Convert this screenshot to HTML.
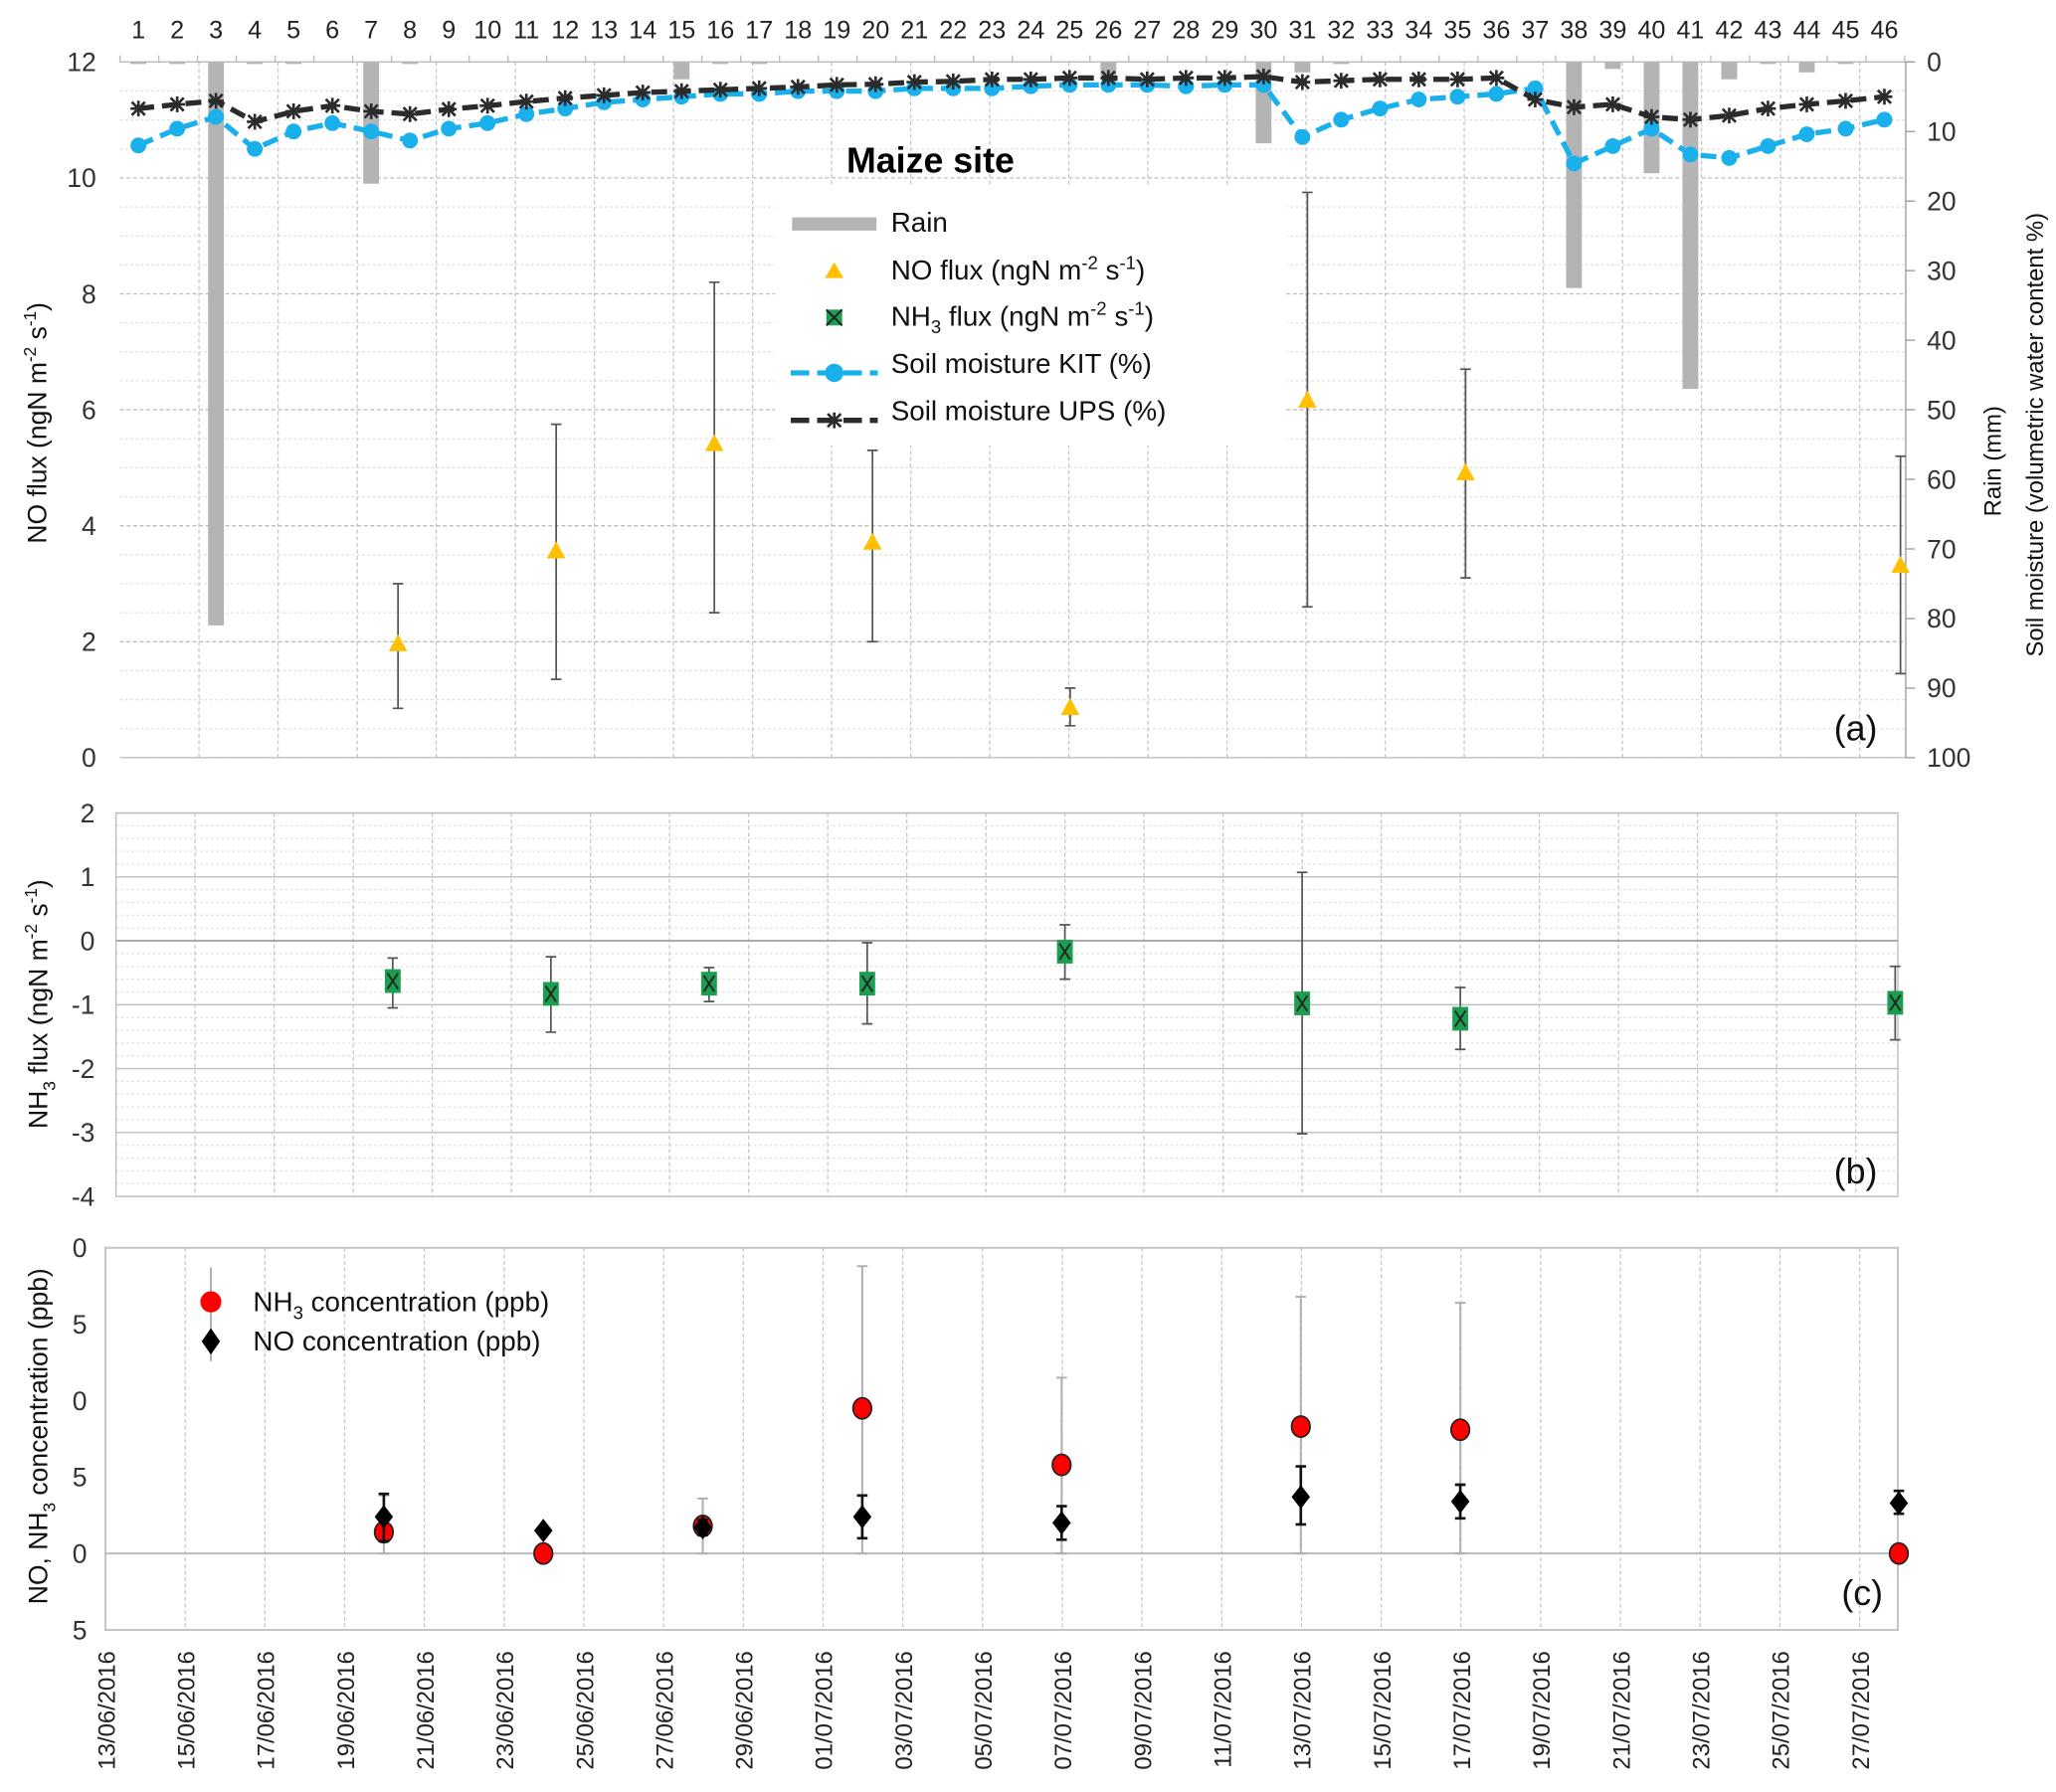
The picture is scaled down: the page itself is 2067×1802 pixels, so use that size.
<!DOCTYPE html>
<html><head><meta charset="utf-8"><style>
html,body{margin:0;padding:0;background:#fff;}
svg{display:block;font-family:"Liberation Sans",sans-serif;}
</style></head><body>
<svg id="chart" xmlns="http://www.w3.org/2000/svg" width="2067" height="1802" viewBox="0 0 1560 1360" preserveAspectRatio="none">
<g id="root"></g>
</svg>
<script>
// ---- data ----
const dayNumbers = Array.from({length:46},(_,i)=>i+1);
const rainMm = [0.3,0.3,81,0.3,0.3,0,17.5,0.3,0,0,0,0,0,0,2.5,0.3,0.3,0,0,0,0,0,0,0,0,2,0,0,0,11.7,1.5,0.3,0,0,0,0,0,32.5,1,16,47,2.5,0.3,1.5,0.3,0];
const kitPct = [12,9.6,7.9,12.5,10,8.8,10,11.3,9.6,8.8,7.5,6.7,5.8,5.4,5,4.6,4.6,4.2,4.2,4.2,3.8,3.8,3.8,3.5,3.3,3.3,3.3,3.5,3.3,3.3,10.8,8.3,6.7,5.4,5,4.6,3.8,14.6,12.1,9.6,13.3,13.8,12.1,10.4,9.6,8.3];
const upsPct = [6.7,6.1,5.6,8.6,7.1,6.3,7.1,7.5,6.8,6.3,5.7,5.2,4.8,4.4,4.2,4,3.8,3.6,3.3,3.2,2.9,2.8,2.5,2.5,2.3,2.3,2.5,2.3,2.3,2.1,2.9,2.7,2.5,2.5,2.5,2.3,5.4,6.5,6.1,7.9,8.3,7.7,6.7,6.1,5.6,5];
// measurement dates as days after 13/06/2016
const measDays = [7,11,15,19,24,30,34,45];
const noFlux = [1.95,3.55,5.4,3.7,0.85,6.15,4.9,3.3];
const noFluxLo = [0.85,1.35,2.5,2.0,0.55,2.6,3.1,1.45];
const noFluxHi = [3.0,5.75,8.2,5.3,1.2,9.75,6.7,5.2];
const nh3Flux = [-0.63,-0.83,-0.67,-0.67,-0.17,-0.98,-1.22,-0.97];
const nh3FluxLo = [-1.05,-1.43,-0.95,-1.3,-0.6,-3.02,-1.7,-1.55];
const nh3FluxHi = [-0.27,-0.25,-0.42,-0.03,0.25,1.07,-0.73,-0.4];
const nh3Conc = [1.4,0,1.8,9.5,5.8,8.3,8.1,0];
const nh3ConcLo = [0,null,0,0,0,0,0,null];
const nh3ConcHi = [3.8,null,3.6,18.8,11.5,16.8,16.4,null];
const noConc = [2.4,1.5,1.7,2.4,2.0,3.7,3.4,3.3];
const noConcLo = [0.8,null,1.2,1.0,0.9,1.9,2.3,2.6];
const noConcHi = [3.9,null,2.2,3.8,3.1,5.7,4.5,4.1];
const dateLabels = ["13/06/2016","15/06/2016","17/06/2016","19/06/2016","21/06/2016","23/06/2016","25/06/2016","27/06/2016","29/06/2016","01/07/2016","03/07/2016","05/07/2016","07/07/2016","09/07/2016","11/07/2016","13/07/2016","15/07/2016","17/07/2016","19/07/2016","21/07/2016","23/07/2016","25/07/2016","27/07/2016"];
const leftTicksA = [0,2,4,6,8,10,12];
const rightTicksA = [0,10,20,30,40,50,60,70,80,90,100];
const ticksB = [2,1,0,-1,-2,-3,-4];
const ticksC = [20,15,10,5,0,-5];
const ticksCLabel = ["0","5","0","5","0","5"];

// ---- helpers ----
const NS="http://www.w3.org/2000/svg";
const root=document.getElementById('root');
function el(tag,attrs,parent,text){const e=document.createElementNS(NS,tag);for(const k in attrs)e.setAttribute(k,attrs[k]);if(text!==undefined)e.textContent=text;(parent||root).appendChild(e);return e;}
function grp(name){const g=el('g',{});return g;}

// axes
const aX0=91,aX1=1446,aY0=47,aY1=575;
const xDayNum=d=>105+(d-1)*29.44;
const yA=v=>aY1-(v/12)*(aY1-aY0);
const yR=p=>aY0+(p/100)*(aY1-aY0);
const xDateA=d=>92+d*30;
const bX0=88,bX1=1440,bY0=617,bY1=908;
const yB=v=>bY0+(2-v)/6*(bY1-bY0);
const xDateB=d=>88+d*30;
const cX0=80,cX1=1440,cY0=947,cY1=1237;
const yC=v=>cY0+(20-v)/25*(cY1-cY0);
const xDateC=d=>79.5+d*30.25;

// ===== Panel A =====
const gA=grp('panel-a');
const gridA=el('g',{},gA);
for(let v=0;v<=12;v+=0.5){const y=yA(v);el('line',{x1:aX0,x2:aX1,y1:y,y2:y,stroke:v%2===0?'#bdbdbd':'#e0e0e0','stroke-width':1,'stroke-dasharray':v%2===0?'3,2':'2,2'},gridA);}
for(let x=aX0+60;x<aX1;x+=60){el('line',{x1:x,x2:x,y1:aY0,y2:aY1,stroke:'#c8c8c8','stroke-width':1,'stroke-dasharray':'3,2'},gridA);}
el('line',{x1:aX0,x2:aX1,y1:aY0,y2:aY0,stroke:'#bbb'},gA);
el('line',{x1:aX0,x2:aX1,y1:aY1,y2:aY1,stroke:'#bbb'},gA);
el('line',{x1:aX1,x2:aX1,y1:aY0,y2:aY1,stroke:'#999'},gA);
for(let d=0;d<=46;d++){const x=aX0+d*29.44;el('line',{x1:x,x2:x,y1:aY0-5,y2:aY0,stroke:'#bbb'},gA);}
dayNumbers.forEach(d=>{const t=el('text',{x:xDayNum(d),y:29,'font-size':19,'text-anchor':'middle',fill:'#222'},gA,String(d));});
leftTicksA.forEach(v=>{const t=el('text',{x:73,y:yA(v)+7,'font-size':20,'text-anchor':'end',fill:'#333'},gA,String(v));});
rightTicksA.forEach(v=>{el('line',{x1:aX1,x2:aX1+7,y1:yR(v),y2:yR(v),stroke:'#999'},gA);const t=el('text',{x:1462,y:yR(v)+7,'font-size':20,fill:'#333'},gA,String(v));});
// rain bars
const gRain=el('g',{},gA);
rainMm.forEach((r,i)=>{if(r<=0)return;const b=el('rect',{x:xDayNum(i+1)-6,y:aY0,width:12,height:Math.max(1,yR(r)-aY0),fill:'#b4b4b4'},gRain);});
// soil moisture lines
function line(vals,color,g,name,marker){
  const pts=vals.map((v,i)=>[xDayNum(i+1),yR(v)]);
  const p=el('polyline',{points:pts.map(p=>p.join(',')).join(' '),fill:'none',stroke:color,'stroke-width':4,'stroke-dasharray':'12,6'},g);
  
  pts.forEach(([x,y])=>{
    if(marker==='circle'){const c=el('circle',{cx:x,cy:y,r:6,fill:color},g);}
    else{const s=el('path',{d:`M${x-6},${y}H${x+6}M${x},${y-6}V${y+6}M${x-5},${y-5}L${x+5},${y+5}M${x-5},${y+5}L${x+5},${y-5}`,stroke:color,'stroke-width':2},g);}
  });
}
const gKit=el('g',{},gA);
line(kitPct,'#1ab0ec',gKit,'soil-moisture-kit-line','circle');
const gUps=el('g',{},gA);
line(upsPct,'#2b2b2b',gUps,'soil-moisture-ups-line','star');

// legend A
const lg=el('g',{},gA);
el('rect',{x:588,y:140,width:388,height:198,fill:'#fff'},lg);
const title=el('text',{x:706,y:131,'font-size':27,'font-weight':'bold','text-anchor':'middle',fill:'#000'},gA,'Maize site');
const legTxt=(y,html,name)=>{const t=el('text',{x:676,y:y+7,'font-size':21,fill:'#111'},lg);t.innerHTML=html;return t;};
el('rect',{x:601,y:165,width:64,height:10,fill:'#b4b4b4'},lg);
legTxt(169,'Rain','legend-rain');
el('path',{d:'M633,199 L640,211 L626,211 Z',fill:'#ffc000'},lg);
legTxt(205,'NO flux (ngN m<tspan dy="-8" font-size="14">-2</tspan><tspan dy="8"> s</tspan><tspan dy="-8" font-size="14">-1</tspan><tspan dy="8">)</tspan>','legend-no-flux');
el('rect',{x:627,y:235,width:12,height:12,fill:'#1a9e50'},lg);el('path',{d:'M627,235L639,247M627,247L639,235',stroke:'#222','stroke-width':1.5},lg);
legTxt(240,'NH<tspan dy="6" font-size="14">3</tspan><tspan dy="-6"> flux (ngN m</tspan><tspan dy="-8" font-size="14">-2</tspan><tspan dy="8"> s</tspan><tspan dy="-8" font-size="14">-1</tspan><tspan dy="8">)</tspan>','legend-nh3-flux');
el('line',{x1:600,x2:666,y1:283,y2:283,stroke:'#1ab0ec','stroke-width':4,'stroke-dasharray':'14,6'},lg);el('circle',{cx:633,cy:283,r:7,fill:'#1ab0ec'},lg);
legTxt(276,'Soil moisture KIT (%)','legend-kit');
el('line',{x1:600,x2:666,y1:319,y2:319,stroke:'#2b2b2b','stroke-width':4,'stroke-dasharray':'14,6'},lg);el('path',{d:'M627,319H639M633,313V325M628,314L638,324M628,324L638,314',stroke:'#2b2b2b','stroke-width':2},lg);
legTxt(312,'Soil moisture UPS (%)','legend-ups');

// NO flux points
const gNo=el('g',{},gA);
measDays.forEach((d,i)=>{const x=xDateA(d);
  const e=el('path',{d:`M${x},${yA(noFluxLo[i])}V${yA(noFluxHi[i])}M${x-4},${yA(noFluxLo[i])}H${x+4}M${x-4},${yA(noFluxHi[i])}H${x+4}`,stroke:'#555','stroke-width':1.3,fill:'none'},gNo);
  const y=yA(noFlux[i]);const t=el('path',{d:`M${x},${y-8}L${x+7},${y+5}L${x-7},${y+5}Z`,fill:'#ffc000'},gNo);});
const la=el('text',{x:1408,y:562,'font-size':27,'text-anchor':'middle',fill:'#111'},gA,'(a)');
const yla=el('text',{transform:'translate(35,321) rotate(-90)','font-size':20,'text-anchor':'middle',fill:'#111'},gA);yla.innerHTML='NO flux (ngN  m<tspan dy="-8" font-size="13">-2</tspan><tspan dy="8"> s</tspan><tspan dy="-8" font-size="13">-1</tspan><tspan dy="8">)</tspan>';
const yr1=el('text',{transform:'translate(1518,350) rotate(-90)','font-size':18,'text-anchor':'middle',fill:'#111'},gA,'Rain (mm)');
const yr2=el('text',{transform:'translate(1550,330) rotate(-90)','font-size':18,'text-anchor':'middle',fill:'#111'},gA,'Soil moisture (volumetric water content %)');

// ===== Panel B =====
const gB=grp('panel-b');
for(let v=-4;v<=2.001;v+=0.2){const y=yB(v);const maj=Math.abs(v-Math.round(v))<0.01;el('line',{x1:bX0,x2:bX1,y1:y,y2:y,stroke:maj?'#bdbdbd':'#e2e2e2','stroke-dasharray':maj?'':'2,2'},gB);}
for(let x=bX0+60;x<bX1;x+=60){el('line',{x1:x,x2:x,y1:bY0,y2:bY1,stroke:'#c8c8c8','stroke-dasharray':'3,2'},gB);}
el('rect',{x:bX0,y:bY0,width:bX1-bX0,height:bY1-bY0,fill:'none',stroke:'#bbb'},gB);
el('line',{x1:bX0,x2:bX1,y1:yB(0),y2:yB(0),stroke:'#aaa','stroke-width':1.5},gB);
ticksB.forEach(v=>{const t=el('text',{x:72,y:yB(v)+7,'font-size':20,'text-anchor':'end',fill:'#333'},gB,String(v));});
const gNh=el('g',{},gB);
measDays.forEach((d,i)=>{const x=xDateB(d);
  const e=el('path',{d:`M${x},${yB(nh3FluxLo[i])}V${yB(nh3FluxHi[i])}M${x-4},${yB(nh3FluxLo[i])}H${x+4}M${x-4},${yB(nh3FluxHi[i])}H${x+4}`,stroke:'#555','stroke-width':1.3,fill:'none'},gNh);
  const y=yB(nh3Flux[i]);const r=el('rect',{x:x-6,y:y-9,width:12,height:18,fill:'#1a9e50'},gNh);
  el('path',{d:`M${x-4},${y-6}L${x+4},${y+6}M${x-4},${y+6}L${x+4},${y-6}`,stroke:'#222','stroke-width':1.4},gNh);});
const lb=el('text',{x:1408,y:898,'font-size':27,'text-anchor':'middle',fill:'#111'},gB,'(b)');
const ylb=el('text',{transform:'translate(36,762) rotate(-90)','font-size':20,'text-anchor':'middle',fill:'#111'},gB);ylb.innerHTML='NH<tspan dy="6" font-size="13">3</tspan><tspan dy="-6"> flux (ngN  m</tspan><tspan dy="-8" font-size="13">-2</tspan><tspan dy="8"> s</tspan><tspan dy="-8" font-size="13">-1</tspan><tspan dy="8">)</tspan>';

// ===== Panel C =====
const gC=grp('panel-c');
for(let x=cX0+60.5;x<cX1;x+=60.5){el('line',{x1:x,x2:x,y1:cY0,y2:cY1,stroke:'#c8c8c8','stroke-dasharray':'3,2'},gC);}
el('rect',{x:cX0,y:cY0,width:cX1-cX0,height:cY1-cY0,fill:'none',stroke:'#c4c4c4','stroke-width':1.5},gC);
el('line',{x1:cX0,x2:cX1,y1:yC(0),y2:yC(0),stroke:'#bbb','stroke-width':1.5},gC);
ticksC.forEach((v,i)=>{const t=el('text',{x:66,y:yC(v)+7,'font-size':20,'text-anchor':'end',fill:'#333'},gC,ticksCLabel[i]);});
dateLabels.forEach((s,i)=>{const x=cX0+i*60.5+7;const t=el('text',{transform:`translate(${x},1253) rotate(-90)`,'font-size':18,'text-anchor':'end',fill:'#222'},gC,s);});
const gNhC=el('g',{},gC);
const gNoC=el('g',{},gC);
measDays.forEach((d,i)=>{const x=xDateC(d);
  if(nh3ConcHi[i]!==null){const e=el('path',{d:`M${x},${yC(nh3ConcLo[i])}V${yC(nh3ConcHi[i])}M${x-4},${yC(nh3ConcLo[i])}H${x+4}M${x-4},${yC(nh3ConcHi[i])}H${x+4}`,stroke:'#b0b0b0','stroke-width':1.5,fill:'none'},gNhC);}
});
measDays.forEach((d,i)=>{const x=xDateC(d);
  const c=el('ellipse',{cx:x,cy:yC(nh3Conc[i]),rx:7,ry:8,fill:'#ff0000',stroke:'#222','stroke-width':1.3},gNhC);
  if(noConcHi[i]!==null){const e=el('path',{d:`M${x},${yC(noConcLo[i])}V${yC(noConcHi[i])}M${x-4},${yC(noConcLo[i])}H${x+4}M${x-4},${yC(noConcHi[i])}H${x+4}`,stroke:'#111','stroke-width':2,fill:'none'},gNoC);}
  const y=yC(noConc[i]);const dm=el('path',{d:`M${x},${y-9}L${x+7},${y}L${x},${y+9}L${x-7},${y}Z`,fill:'#000'},gNoC);});
const lgc=el('g',{},gC);
el('line',{x1:160,x2:160,y1:962,y2:1033,stroke:'#b0b0b0','stroke-width':1.5},lgc);
el('circle',{cx:160,cy:988,r:8,fill:'#ff0000'},lgc);
el('path',{d:'M160,1008L167,1018L160,1028L153,1018Z',fill:'#000'},lgc);
const t1=el('text',{x:192,y:995,'font-size':21,fill:'#111'},lgc);t1.innerHTML='NH<tspan dy="6" font-size="14">3</tspan><tspan dy="-6"> concentration (ppb)</tspan>';
const t2=el('text',{x:192,y:1025,'font-size':21,fill:'#111'},lgc,'NO concentration (ppb)');
const lc=el('text',{x:1413,y:1218,'font-size':27,'text-anchor':'middle',fill:'#111'},gC,'(c)');
const ylc=el('text',{transform:'translate(36,1090) rotate(-90)','font-size':20,'text-anchor':'middle',fill:'#111'},gC);ylc.innerHTML='NO, NH<tspan dy="6" font-size="13">3</tspan><tspan dy="-6"> concentration (ppb)</tspan>';
</script>
</body></html>
